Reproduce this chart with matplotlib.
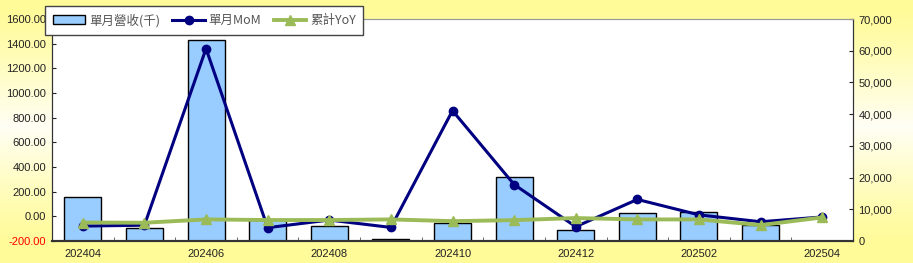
import numpy as np
import matplotlib
matplotlib.use('Agg')
import matplotlib.pyplot as plt
from matplotlib.ticker import FuncFormatter

plt.rcParams['font.family'] = ['Liberation Sans', 'Noto Sans CJK TC', 'DejaVu Sans']

# Data
months = ['202404', '202405', '202406', '202407', '202408', '202409', '202410',
          '202411', '202412', '202501', '202502', '202503', '202504']
revenue = [13800, 4000, 63300, 6600, 4600, 600, 5600, 20300, 3500, 8700, 9000, 4900, 0]
mom = [-79, -72, 1360, -92, -30, -90, 857, 258, -84, 137, 12, -44, -5]
yoy = [-50, -52, -25, -30, -30, -25, -39, -31, -14, -25, -25, -71, -9]

x = np.arange(len(months))

fig = plt.figure(figsize=(9.13, 2.63), dpi=100)

# background gradient: yellow at top/bottom, whitish in the middle
bg = fig.add_axes([0, 0, 1, 1], zorder=-10)
t = np.linspace(0, 1, 256)[:, None]
w = np.clip(1 - np.abs(t - 0.48) / 0.45, 0, 1) ** 1.2
yellow = np.array([1.0, 0.985, 0.6])
white = np.array([1.0, 1.0, 0.96])
img = yellow * (1 - w[..., None]) + white * w[..., None]
img = np.repeat(img, 4, axis=1)
bg.imshow(img, aspect='auto', extent=[0, 1, 0, 1])
bg.axis('off')

ax = fig.add_axes([52 / 913, 22 / 263, 801 / 913, 222 / 263])
ax.set_facecolor('white')

# bars on the right-hand scale
bars = ax.bar(x, revenue, width=0.6, color='#99CCFF', edgecolor='black',
              linewidth=1, label='單月營收(千)', zorder=2)
ax.set_ylim(0, 70000)
ax.set_yticks(np.arange(0, 70001, 10000))
ax.yaxis.set_major_formatter(FuncFormatter(lambda v, p: '{:,.0f}'.format(v)))
ax.set_xlim(-0.5, len(months) - 0.5)

# lines on the left-hand scale
ax2 = ax.twinx()
ax.yaxis.tick_right()
ax2.yaxis.tick_left()
l1, = ax2.plot(x, mom, color='#000080', linewidth=2.2, marker='o',
               markersize=6, label='單月MoM')
l2, = ax2.plot(x, yoy, color='#9BBB59', linewidth=2.8, marker='^',
               markersize=7, label='累計YoY')
ax2.set_ylim(-200, 1600)
ax2.set_yticks(np.arange(-200, 1601, 200))
ax2.yaxis.set_major_formatter(FuncFormatter(lambda v, p: '{:.2f}'.format(v)))

# x ticks: labels every other month, tick marks at category boundaries
ax.set_xticks(x[::2])
ax.set_xticklabels(months[::2])
ax.set_xticks(np.arange(-0.5, len(months), 1), minor=True)
ax.tick_params(axis='x', which='major', length=0, labelsize=8, pad=6, colors='#222222')
ax.tick_params(axis='x', which='minor', direction='in', length=3, color='#555555')
ax.tick_params(axis='y', direction='in', length=3, labelsize=8, colors='#222222', pad=4)
ax2.tick_params(axis='y', direction='in', length=3, labelsize=8, colors='#222222', pad=4)
ax2.get_yticklabels()[0].set_color('red')

for a in (ax, ax2):
    a.spines['top'].set_color('#999999')
    a.spines['bottom'].set_color('#333333')
    a.spines['left'].set_color('#333333')
    a.spines['right'].set_color('#333333')
    a.spines['bottom'].set_linewidth(1.5)

leg = fig.legend([bars, l1, l2], ['單月營收(千)', '單月MoM', '累計YoY'],
                 loc='upper left', bbox_to_anchor=(45 / 913, 1 - 6 / 263),
                 borderaxespad=0, ncol=3, frameon=True, fancybox=False,
                 framealpha=1, edgecolor='#444444', handlelength=2.6,
                 columnspacing=1.0, handletextpad=0.3, borderpad=0.6,
                 prop={'family': ['Noto Sans CJK TC', 'DejaVu Sans'], 'size': 9})
leg.get_frame().set_linewidth(1)
for txt in leg.get_texts():
    txt.set_color('#555555')

fig.savefig('out.png', dpi=100)
